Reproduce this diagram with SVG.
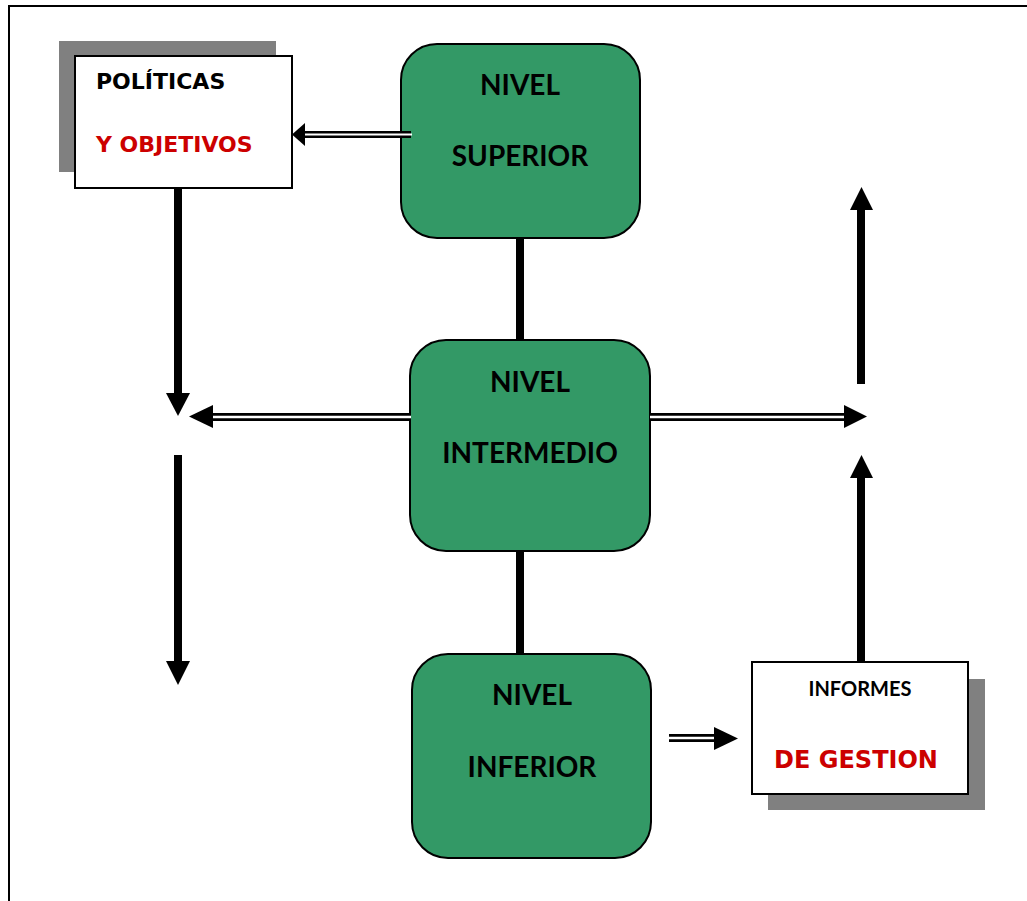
<svg xmlns="http://www.w3.org/2000/svg" width="1027" height="901" viewBox="0 0 1027 901">
<style>
.lvl{fill:#339966;stroke:#000;stroke-width:2}
.lt{font-family:Lato,"Open Sans","Liberation Sans",sans-serif;font-weight:bold;font-size:28px;fill:#000;text-anchor:middle}
.box{fill:#fff;stroke:#000;stroke-width:2}
.sh{fill:#808080}
.vt{font-family:"DejaVu Sans","Liberation Sans",sans-serif;font-weight:bold}
.red{fill:#cc0000}
.thick{stroke:#000;stroke-width:8;fill:none}
.dblo{stroke:#000;stroke-width:8;fill:none}
.dbli{stroke:#fff;stroke-width:2.5;fill:none}
.ah{fill:#000}
</style>
<rect x="0" y="0" width="1027" height="901" fill="#fff"/>
<path d="M9,910 V6 H1040" fill="none" stroke="#000" stroke-width="2"/>

<g id="politicas">
<rect class="sh" x="59" y="41" width="217" height="131"/>
<rect class="box" x="75" y="56" width="217" height="132"/>
<text class="vt" x="96" y="89" font-size="22" fill="#000">POLÍTICAS</text>
<text class="vt red" x="96" y="152" font-size="22">Y OBJETIVOS</text>
</g>

<g id="informes">
<rect class="sh" x="768" y="679" width="217" height="131"/>
<rect class="box" x="752" y="662" width="216" height="132"/>
<text x="860" y="696" font-family="Lato,'Open Sans','Liberation Sans',sans-serif" font-weight="bold" font-size="20" text-anchor="middle">INFORMES</text>
<text class="vt red" x="856" y="768" font-size="24" text-anchor="middle">DE GESTION</text>
</g>

<g id="nivel-superior">
<rect class="lvl" x="401" y="44" width="239" height="194" rx="36" ry="36"/>
<text class="lt" x="520" y="95">NIVEL</text>
<text class="lt" x="520" y="166">SUPERIOR</text>
</g>

<g id="nivel-intermedio">
<rect class="lvl" x="410" y="340" width="240" height="211" rx="36" ry="36"/>
<text class="lt" x="530" y="392">NIVEL</text>
<text class="lt" x="530" y="463">INTERMEDIO</text>
</g>

<g id="nivel-inferior">
<rect class="lvl" x="412" y="654" width="239" height="204" rx="36" ry="36"/>
<text class="lt" x="532" y="705">NIVEL</text>
<text class="lt" x="532" y="777">INFERIOR</text>
</g>

<g id="connectors">
<!-- green vertical links -->
<line class="thick" x1="520" y1="239" x2="520" y2="339"/>
<line class="thick" x1="520" y1="552" x2="520" y2="653"/>
<!-- superior to politicas double -->
<line x1="411" y1="134.5" x2="303" y2="134.5" stroke="#000" stroke-width="7"/>
<line x1="412" y1="134.5" x2="303" y2="134.5" stroke="#fff" stroke-width="2"/>
<polygon class="ah" points="292,134.5 305,123 305,146"/>
<!-- politicas down -->
<line class="thick" x1="178" y1="189" x2="178" y2="395"/>
<polygon class="ah" points="166,393 190,393 178,416"/>
<line class="thick" x1="178" y1="455" x2="178" y2="663"/>
<polygon class="ah" points="166,661 190,661 178,685"/>
<!-- intermedio left double -->
<line class="dblo" x1="410" y1="417" x2="211" y2="417"/>
<line class="dbli" x1="411" y1="417" x2="211" y2="417"/>
<polygon class="ah" points="189,416.5 213,405 213,428"/>
<!-- intermedio right double -->
<line class="dblo" x1="651" y1="417" x2="846" y2="417"/>
<line class="dbli" x1="650" y1="417" x2="846" y2="417"/>
<polygon class="ah" points="867,416.5 844,405 844,428"/>
<!-- up arrows -->
<line class="thick" x1="861" y1="384" x2="861" y2="208"/>
<polygon class="ah" points="850,210 873,210 861.5,187"/>
<line class="thick" x1="861" y1="661" x2="861" y2="476"/>
<polygon class="ah" points="850,478 873,478 861.5,455"/>
<!-- inferior to informes double -->
<line class="dblo" x1="669" y1="738" x2="716" y2="738"/>
<line class="dbli" x1="668" y1="738" x2="716" y2="738"/>
<polygon class="ah" points="738,738.5 714,727 714,750"/>
</g>
</svg>
